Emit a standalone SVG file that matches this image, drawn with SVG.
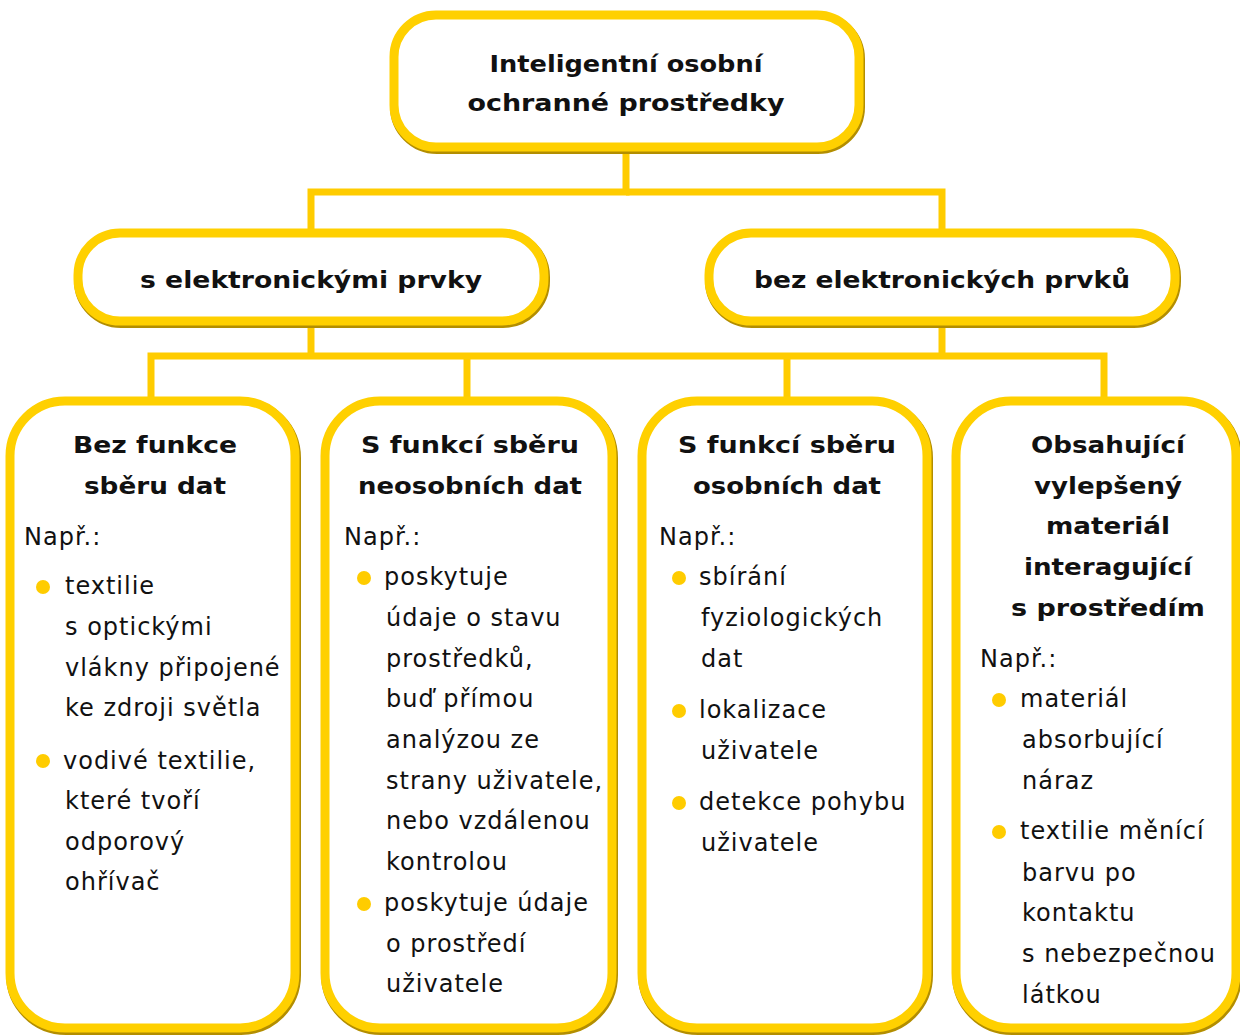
<svg xmlns="http://www.w3.org/2000/svg" width="1240" height="1036" viewBox="0 0 1240 1036">
<defs>
<style>
.sh{fill:none;stroke:#B38E00;stroke-width:10}
.bd{fill:#FFFFFF;stroke:#FFD000;stroke-width:9}
.cn{fill:none;stroke:#FFCC00;stroke-width:7;stroke-linecap:butt;stroke-linejoin:miter}
.h{font-family:"DejaVu Sans","Liberation Sans",sans-serif;font-weight:bold;font-size:23px;fill:#111;text-anchor:middle}
.t{font-family:"DejaVu Sans","Liberation Sans",sans-serif;font-size:24px;letter-spacing:1px;fill:#111}
.b{fill:#FFCC00}
</style>
</defs>
<rect width="1240" height="1036" fill="#FFFFFF"/>
<g id="connectors">
<polyline class="cn" points="626,150 626,192 311,192 311,230"/>
<polyline class="cn" points="626,192 942,192 942,230"/>
<line class="cn" x1="311" y1="322" x2="311" y2="356"/>
<line class="cn" x1="942" y1="322" x2="942" y2="356"/>
<polyline class="cn" points="151,399 151,356 1104,356 1104,399"/>
<line class="cn" x1="467" y1="356" x2="467" y2="399"/>
<line class="cn" x1="787" y1="356" x2="787" y2="399"/>
</g>
<g id="root">
<rect class="sh" x="395" y="17" width="465" height="132" rx="42"/>
<rect class="bd" x="394" y="15" width="465" height="132" rx="42"/>
<text class="h" x="626" y="72" textLength="273" lengthAdjust="spacingAndGlyphs">Inteligentní osobní</text>
<text class="h" x="626" y="111" textLength="317" lengthAdjust="spacingAndGlyphs">ochranné prostředky</text>
</g>
<g id="with-electronics">
<rect class="sh" x="79" y="235" width="466" height="88" rx="42"/>
<rect class="bd" x="78" y="233" width="466" height="88" rx="42"/>
<text class="h" x="311" y="288" textLength="342" lengthAdjust="spacingAndGlyphs">s elektronickými prvky</text>
</g>
<g id="without-electronics">
<rect class="sh" x="710" y="235" width="466" height="88" rx="42"/>
<rect class="bd" x="709" y="233" width="466" height="88" rx="42"/>
<text class="h" x="942" y="288" textLength="376" lengthAdjust="spacingAndGlyphs">bez elektronických prvků</text>
</g>
<g id="no-data">
<rect class="sh" x="11" y="403" width="285" height="627" rx="55"/>
<rect class="bd" x="10" y="401" width="285" height="627" rx="55"/>
<text class="h" x="155" y="453" textLength="164" lengthAdjust="spacingAndGlyphs">Bez funkce</text>
<text class="h" x="155" y="494" textLength="142" lengthAdjust="spacingAndGlyphs">sběru dat</text>
<text class="t" x="24" y="545">Např.:</text>
<circle class="b" cx="43" cy="587" r="7"/>
<text class="t" x="65" y="594">textilie</text>
<text class="t" x="65" y="635">s optickými</text>
<text class="t" x="65" y="676">vlákny připojené</text>
<text class="t" x="65" y="716">ke zdroji světla</text>
<circle class="b" cx="43" cy="761" r="7"/>
<text class="t" x="63" y="769">vodivé textilie,</text>
<text class="t" x="65" y="809">které tvoří</text>
<text class="t" x="65" y="850">odporový</text>
<text class="t" x="65" y="890">ohřívač</text>
</g>
<g id="non-personal-data">
<rect class="sh" x="326" y="403" width="287" height="627" rx="55"/>
<rect class="bd" x="325" y="401" width="287" height="627" rx="55"/>
<text class="h" x="470" y="453" textLength="218" lengthAdjust="spacingAndGlyphs">S funkcí sběru</text>
<text class="h" x="470" y="494" textLength="224" lengthAdjust="spacingAndGlyphs">neosobních dat</text>
<text class="t" x="344" y="545">Např.:</text>
<circle class="b" cx="364" cy="578" r="7"/>
<text class="t" x="384" y="585">poskytuje</text>
<text class="t" x="386" y="626">údaje o stavu</text>
<text class="t" x="386" y="667">prostředků,</text>
<text class="t" x="386" y="707">buď přímou</text>
<text class="t" x="386" y="748">analýzou ze</text>
<text class="t" x="386" y="789">strany uživatele,</text>
<text class="t" x="386" y="829">nebo vzdálenou</text>
<text class="t" x="386" y="870">kontrolou</text>
<circle class="b" cx="364" cy="904" r="7"/>
<text class="t" x="384" y="911">poskytuje údaje</text>
<text class="t" x="386" y="952">o prostředí</text>
<text class="t" x="386" y="992">uživatele</text>
</g>
<g id="personal-data">
<rect class="sh" x="643" y="403" width="285" height="627" rx="55"/>
<rect class="bd" x="642" y="401" width="285" height="627" rx="55"/>
<text class="h" x="787" y="453" textLength="218" lengthAdjust="spacingAndGlyphs">S funkcí sběru</text>
<text class="h" x="787" y="494" textLength="188" lengthAdjust="spacingAndGlyphs">osobních dat</text>
<text class="t" x="659" y="545">Např.:</text>
<circle class="b" cx="679" cy="578" r="7"/>
<text class="t" x="699" y="585">sbírání</text>
<text class="t" x="701" y="626">fyziologických</text>
<text class="t" x="701" y="667">dat</text>
<circle class="b" cx="679" cy="711" r="7"/>
<text class="t" x="699" y="718">lokalizace</text>
<text class="t" x="701" y="759">uživatele</text>
<circle class="b" cx="679" cy="803" r="7"/>
<text class="t" x="699" y="810">detekce pohybu</text>
<text class="t" x="701" y="851">uživatele</text>
</g>
<g id="improved-material">
<rect class="sh" x="957" y="403" width="280" height="627" rx="55"/>
<rect class="bd" x="956" y="401" width="280" height="627" rx="55"/>
<text class="h" x="1108" y="453" textLength="154" lengthAdjust="spacingAndGlyphs">Obsahující</text>
<text class="h" x="1108" y="494" textLength="148" lengthAdjust="spacingAndGlyphs">vylepšený</text>
<text class="h" x="1108" y="534" textLength="124" lengthAdjust="spacingAndGlyphs">materiál</text>
<text class="h" x="1108" y="575" textLength="168" lengthAdjust="spacingAndGlyphs">interagující</text>
<text class="h" x="1108" y="616" textLength="194" lengthAdjust="spacingAndGlyphs">s prostředím</text>
<text class="t" x="980" y="667">Např.:</text>
<circle class="b" cx="999" cy="700" r="7"/>
<text class="t" x="1020" y="707">materiál</text>
<text class="t" x="1022" y="748">absorbující</text>
<text class="t" x="1022" y="789">náraz</text>
<circle class="b" cx="999" cy="832" r="7"/>
<text class="t" x="1020" y="839">textilie měnící</text>
<text class="t" x="1022" y="881">barvu po</text>
<text class="t" x="1022" y="921">kontaktu</text>
<text class="t" x="1022" y="962">s nebezpečnou</text>
<text class="t" x="1022" y="1003">látkou</text>
</g>
</svg>
